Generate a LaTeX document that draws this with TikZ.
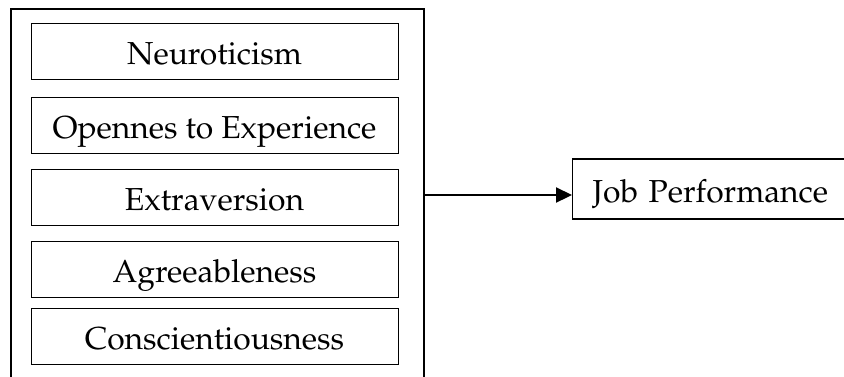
\documentclass[tikz,border=0pt]{standalone}
\usepackage[T1]{fontenc}
\usepackage{mathpazo}
\usetikzlibrary{arrows.meta}

\begin{document}
\begin{tikzpicture}[x=0.5pt, y=-0.5pt, font=\fontsize{15.9}{18}\selectfont,
  trait/.style = {draw, line width=0.5pt, minimum width=183.5pt, minimum height=28pt, inner sep=0pt, text height=13pt, text depth=0pt}]
\useasboundingbox (0,0) rectangle (844,376);
\node[draw, line width=1.1pt, minimum width=206.5pt, minimum height=186pt] (big) at (217.5,195) {};
\node[trait] (1) at (214.5,51) {Neuroticism};
\node[trait] (2) at (214.5,125) {Opennes to Experience};
\node[trait] (3) at (214.5,197) {Extraversion};
\node[trait] (4) at (214.5,269) {Agreeableness};
\node[trait] (5) at (214.5,336.5) {Conscientiousness};
\node[draw, line width=0.6pt, anchor=west, text width=135pt, inner xsep=10pt, inner ysep=0pt, minimum height=30pt, text height=13pt, text depth=0pt] (job) at (572,189) {Job Performance};
\draw[line width=1.1pt, -{Triangle[length=8pt,width=7.5pt]}] (big.east) -- (big.east -| job.west);
\end{tikzpicture}
\end{document}
